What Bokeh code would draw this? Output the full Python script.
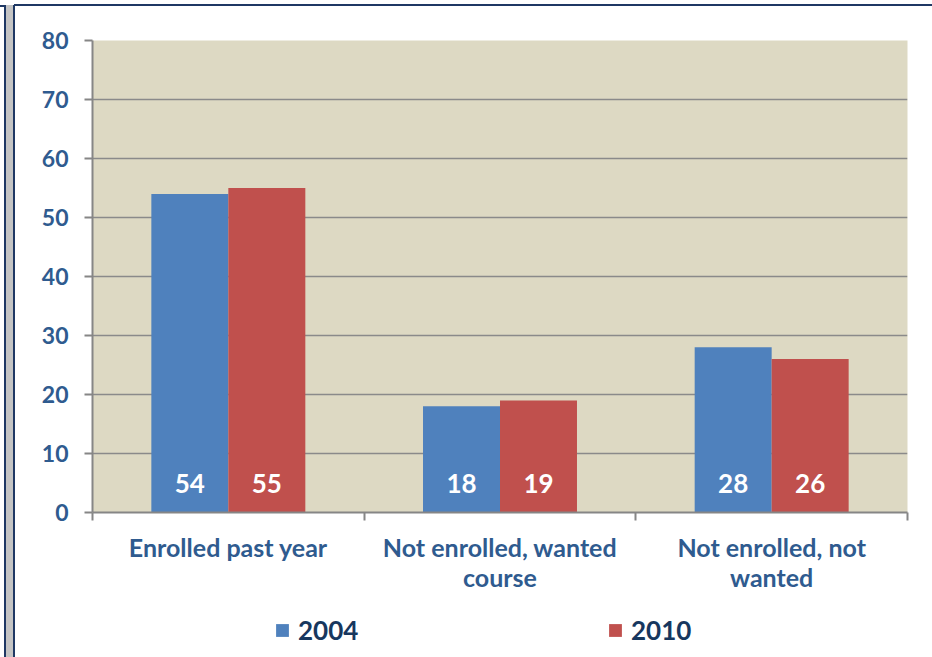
from bokeh.plotting import figure
from bokeh.layouts import column
from bokeh.models import ColumnDataSource, FixedTicker, Legend, LegendItem, Range1d
from bokeh.core.properties import value
from bokeh.embed import file_html
from bokeh.resources import INLINE

categories = ["Enrolled past year", "Not enrolled, wanted\ncourse", "Not enrolled, not\nwanted"]
years = ["2004", "2010"]
values_2004 = [54, 18, 28]
values_2010 = [55, 19, 26]
y_ticks = [0, 10, 20, 30, 40, 50, 60, 70, 80]

BLUE = "#4F81BD"
RED = "#C0504D"
AXIS_TEXT = "#2F5B8F"
LEGEND_TEXT = "#17375E"
FRAME = "#1F3864"
FONT = "Lato"

W, H_MAIN, H_LEG = 932, 600, 57
p = figure(width=W, height=H_MAIN, output_backend="svg", toolbar_location=None,
           x_range=(0, len(categories)), y_range=(0, 80),
           min_border_left=92, min_border_right=25,
           min_border_top=40, min_border_bottom=88)
p.background_fill_color = "#DDD9C3"
p.border_fill_alpha = 0
p.outline_line_color = None

bw = 0.2834
centers = [i + 0.5 for i in range(len(categories))]
src04 = ColumnDataSource(dict(x=[c - bw / 2 for c in centers], top=values_2004,
                              lab=[str(v) for v in values_2004]))
src10 = ColumnDataSource(dict(x=[c + bw / 2 for c in centers], top=values_2010,
                              lab=[str(v) for v in values_2010]))

p.vbar(x="x", top="top", bottom=0, width=bw, source=src04,
       fill_color=BLUE, line_color=None)
p.vbar(x="x", top="top", bottom=0, width=bw, source=src10,
       fill_color=RED, line_color=None)

label_y = 4.9
for s in (src04, src10):
    p.text(x="x", y=label_y, text="lab", source=s, text_color="white",
           text_font=value(FONT), text_font_style="bold", text_font_size="26px",
           text_align="center", text_baseline="middle")

# grid
p.xgrid.visible = False
p.ygrid.ticker = FixedTicker(ticks=y_ticks)
p.ygrid.grid_line_color = "#8A8A8A"
p.ygrid.grid_line_width = 1.7

# y axis
yax = p.yaxis[0]
yax.ticker = FixedTicker(ticks=y_ticks)
yax.axis_line_color = "#868686"
yax.axis_line_width = 2
yax.major_tick_line_color = "#868686"
yax.major_tick_line_width = 2
yax.major_tick_out = 8
yax.major_tick_in = 0
yax.minor_tick_line_color = None
yax.major_label_text_font = FONT
yax.major_label_text_font_style = "bold"
yax.major_label_text_font_size = "23px"
yax.major_label_text_color = AXIS_TEXT
yax.major_label_standoff = 16

# x axis
xax = p.xaxis[0]
xax.ticker = FixedTicker(ticks=centers, minor_ticks=list(range(len(categories) + 1)))
xax.major_label_overrides = {c: lab for c, lab in zip(centers, categories)}
xax.axis_line_color = "#868686"
xax.axis_line_width = 2
xax.major_tick_line_color = None
xax.major_tick_out = 0
xax.major_tick_in = 0
xax.minor_tick_line_color = "#868686"
xax.minor_tick_line_width = 2
xax.minor_tick_out = 8
xax.minor_tick_in = 0
xax.major_label_text_font = FONT
xax.major_label_text_font_style = "bold"
xax.major_label_text_font_size = "25px"
xax.major_label_text_line_height = 1.0
xax.major_label_text_color = AXIS_TEXT
xax.major_label_standoff = 11

# legend strip (separate small figure below the chart)
pl = figure(width=W, height=H_LEG, output_backend="svg", toolbar_location=None,
            x_range=Range1d(0, 1), y_range=Range1d(0, 1),
            x_axis_location=None, y_axis_location=None,
            min_border=0)
pl.grid.visible = False
pl.outline_line_color = None
pl.background_fill_alpha = 0
pl.border_fill_alpha = 0
nan = float("nan")
lr04 = pl.rect(x=[nan], y=[nan], width=1, height=1, fill_color=BLUE, line_color=None)
lr10 = pl.rect(x=[nan], y=[nan], width=1, height=1, fill_color=RED, line_color=None)

for lab, rend, xpos in ((years[0], lr04, 182), (years[1], lr10, 515)):
    lg = Legend(items=[LegendItem(label=lab, renderers=[rend])],
                location=(xpos, 11), orientation="horizontal",
                glyph_width=16, glyph_height=16, label_standoff=8,
                padding=0, margin=0, border_line_color=None,
                background_fill_alpha=0,
                label_text_font=FONT, label_text_font_style="bold",
                label_text_font_size="26px", label_text_color=LEGEND_TEXT)
    pl.add_layout(lg, "center")

layout = column(p, pl, spacing=0)
layout.styles = {
    "background": (
        f"linear-gradient({FRAME}, {FRAME}) 14px 4px / calc(100% - 14px) 2px no-repeat, "
        f"linear-gradient({FRAME}, {FRAME}) 0px 5px / 5px 2px no-repeat, "
        f"linear-gradient(to right, {FRAME} 0 2px, #C4C4C4 2px 9px, {FRAME} 9px 11px, transparent 11px) 4px 5px / 11px calc(100% - 5px) no-repeat, "
        "white"
    )
}

open("out.html", "w").write(file_html(layout, INLINE))
